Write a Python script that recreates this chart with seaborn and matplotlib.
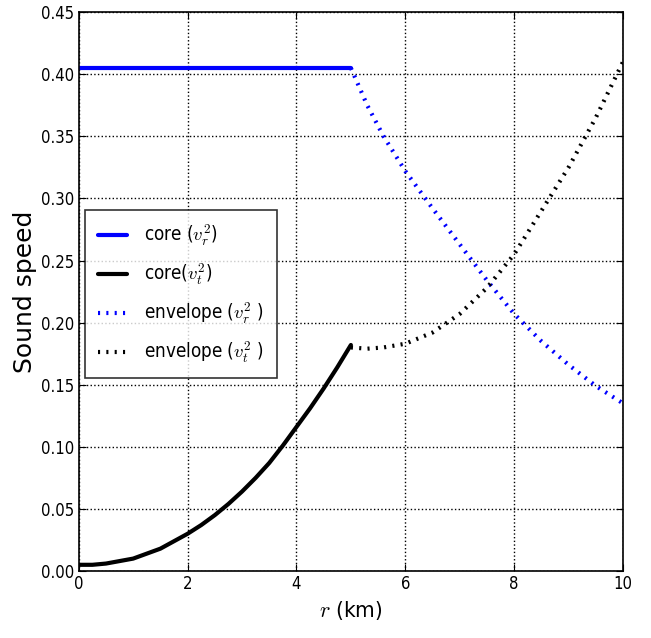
import numpy as np
import pandas as pd
import matplotlib
matplotlib.use("Agg")
import matplotlib.pyplot as plt
import seaborn as sns

# values
r_core = [0.0, 0.25, 0.5, 0.75, 1.0, 1.25, 1.5, 1.75, 2.0, 2.25, 2.5,
          2.75, 3.0, 3.25, 3.5, 3.75, 4.0, 4.25, 4.5, 4.75, 5.0]
vr_core = [0.405] * len(r_core)
vt_core = [0.005, 0.005, 0.006, 0.008, 0.010, 0.014, 0.018, 0.024, 0.030, 0.037, 0.045,
           0.054, 0.064, 0.075, 0.087, 0.101, 0.116, 0.131, 0.147, 0.164, 0.182]

r_env = [5.0, 5.3, 5.6, 6.0, 6.5, 7.0, 7.5, 8.0, 8.5, 9.0, 9.5, 10.0]
vr_env = [0.405, 0.375, 0.350, 0.322, 0.292, 0.263, 0.234, 0.207, 0.185, 0.166, 0.149, 0.135]
vt_env = [0.180, 0.179, 0.180, 0.183, 0.192, 0.207, 0.228, 0.255, 0.290, 0.325, 0.365, 0.410]

sns.set_style("ticks")
plt.rcParams['mathtext.fontset'] = 'cm'
plt.rcParams['font.family'] = ['DejaVu Sans']
plt.rcParams['font.stretch'] = 'condensed'
plt.rcParams['text.color'] = 'black'
plt.rcParams['axes.labelcolor'] = 'black'
plt.rcParams['xtick.color'] = 'black'
plt.rcParams['ytick.color'] = 'black'

fig = plt.figure(figsize=(6.51, 6.38), dpi=100)
ax = fig.add_axes([0.121, 0.105, 0.836, 0.876])

dots = (0.5, 1.5)
sns.lineplot(x=r_core, y=vr_core, ax=ax, color='blue', lw=3, label=r'core ($v_r^2$)')
sns.lineplot(x=r_core, y=vt_core, ax=ax, color='black', lw=3, label=r'core($v_t^2$)')
sns.lineplot(x=r_env, y=vr_env, ax=ax, color='blue', lw=3, dashes=dots, label=r'envelope ($v_r^2$ )')
sns.lineplot(x=r_env, y=vt_env, ax=ax, color='black', lw=3, dashes=dots, label=r'envelope ($v_t^2$ )')

ax.set_xlim(0, 10)
ax.set_ylim(0, 0.45)
ax.set_xticks([0, 2, 4, 6, 8, 10])
ax.set_yticks(np.arange(0, 0.451, 0.05))
ax.set_yticklabels([f"{v:.2f}" for v in np.arange(0, 0.451, 0.05)])
ax.grid(True, color='black', linestyle=':', linewidth=1)
ax.tick_params(direction='in', top=True, right=True, labelsize=12, length=5, pad=3)
for s in ax.spines.values():
    s.set_visible(True)
    s.set_linewidth(1.2)
    s.set_color('black')

ax.set_xlabel(r'$r$ (km)', fontsize=16)
ax.set_ylabel('Sound speed', fontsize=18, fontstretch='normal', labelpad=3)

leg = ax.legend(loc='lower left', bbox_to_anchor=(0.011, 0.345), fontsize=13.5,
                handlelength=1.55, handletextpad=0.9, frameon=True, fancybox=False,
                borderaxespad=0, labelspacing=0.7, borderpad=0.7)
leg.get_frame().set_edgecolor('black')
leg.get_frame().set_linewidth(1.2)

fig.savefig('out.png', dpi=100)
